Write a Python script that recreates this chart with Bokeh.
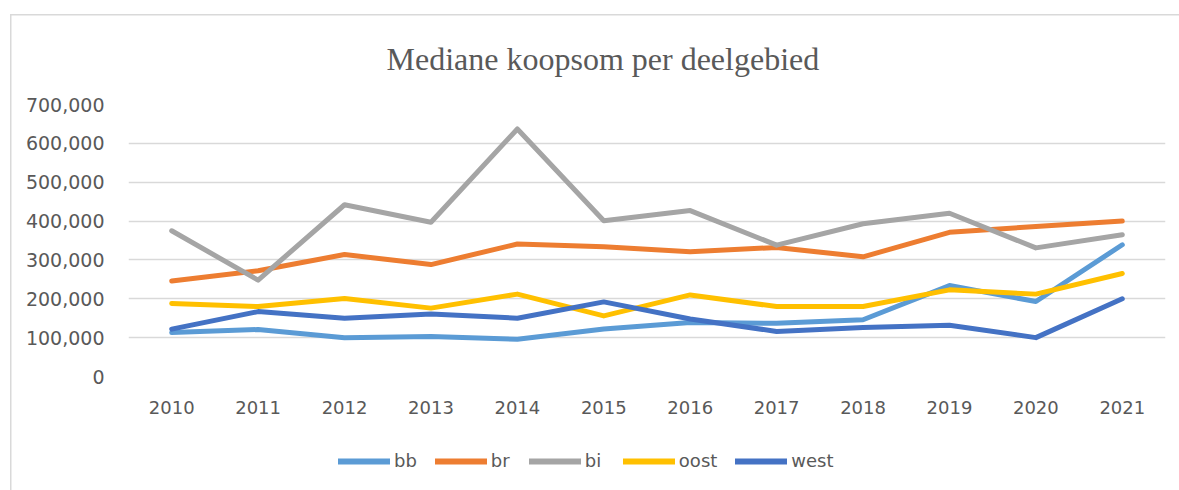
from bokeh.plotting import figure
from bokeh.layouts import column
from bokeh.models import FixedTicker, NumeralTickFormatter, Legend, LegendItem, Title, Range1d
from bokeh.embed import file_html
from bokeh.resources import INLINE

years = [2010, 2011, 2012, 2013, 2014, 2015, 2016, 2017, 2018, 2019, 2020, 2021]
bb = [113000, 121000, 100000, 103000, 96000, 122000, 139000, 137000, 146000, 234000, 193000, 339000]
br = [246000, 272000, 314000, 288000, 341000, 334000, 321000, 332000, 308000, 371000, 386000, 400000]
bi = [375000, 248000, 442000, 397000, 637000, 401000, 427000, 338000, 393000, 420000, 331000, 365000]
oost = [188000, 180000, 201000, 176000, 212000, 156000, 210000, 180000, 180000, 223000, 212000, 265000]
west = [122000, 167000, 150000, 161000, 150000, 192000, 148000, 116000, 126000, 132000, 100000, 200000]
y_ticks = [0, 100000, 200000, 300000, 400000, 500000, 600000, 700000]

series = [("bb", bb, "#5B9BD5"), ("br", br, "#ED7D31"), ("bi", bi, "#A5A5A5"),
          ("oost", oost, "#FFC000"), ("west", west, "#4472C4")]

GRID = "#D9D9D9"
TXT = "#595959"
font = "DejaVu Sans"

# main chart
p = figure(width=1179, height=440, output_backend="svg", toolbar_location=None,
           x_range=Range1d(2009.5, 2021.5), y_range=Range1d(0, 700000),
           min_border_left=128, min_border_right=14, min_border_top=104, min_border_bottom=64)
p.styles = {
    "background-image": f"linear-gradient({GRID},{GRID}), linear-gradient({GRID},{GRID})",
    "background-size": "100% 1.5px, 1.5px 100%",
    "background-position": "10px 14px, 10px 14px",
    "background-repeat": "no-repeat",
}
p.outline_line_color = None
p.background_fill_color = "white"
p.border_fill_color = None

p.xaxis.ticker = FixedTicker(ticks=years)
p.yaxis.ticker = FixedTicker(ticks=y_ticks)
p.yaxis.formatter = NumeralTickFormatter(format="0,0")
for ax in (p.xaxis[0], p.yaxis[0]):
    ax.axis_line_color = None
    ax.major_tick_line_color = None
    ax.minor_tick_line_color = None
    ax.major_tick_out = 0
    ax.major_tick_in = 0
    ax.major_label_text_font = font
    ax.major_label_text_font_size = "18px"
    ax.major_label_text_color = TXT
p.yaxis.major_label_text_font_size = "19px"
p.yaxis.major_label_standoff = 24
p.xaxis.major_label_standoff = 24
p.xgrid.grid_line_color = None
p.ygrid.grid_line_color = GRID
p.ygrid.grid_line_width = 1.5

for name, vals, col in series:
    p.line(years, vals, line_color=col, line_width=5, line_join="round", line_cap="round")

t = Title(text="Mediane koopsom per deelgebied", align="left", offset=258,
          text_font="Liberation Serif", text_font_size="32px", text_color=TXT,
          text_font_style="normal", standoff=55)
p.add_layout(t, "above")

# legend strip
p2 = figure(width=1179, height=50, output_backend="svg", toolbar_location=None,
            x_range=Range1d(0, 1), y_range=Range1d(0, 1),
            min_border=0, x_axis_location=None, y_axis_location=None)
p2.styles = {
    "background-image": f"linear-gradient({GRID},{GRID})",
    "background-size": "1.5px 100%",
    "background-position": "10px 0px",
    "background-repeat": "no-repeat",
}
p2.grid.visible = False
p2.outline_line_color = None
p2.background_fill_color = None
p2.border_fill_color = None
items = []
for name, vals, col in series:
    r = p2.line(years, vals, line_color=col, line_width=6, line_cap="round")
    items.append(LegendItem(label=name, renderers=[r]))
legend = Legend(items=items, orientation="horizontal", location=(210, 19),
                glyph_width=52, glyph_height=20, label_standoff=4, spacing=18,
                padding=0, margin=0, border_line_color=None, background_fill_alpha=0,
                label_text_font=font, label_text_font_size="18px", label_text_color=TXT)
p2.add_layout(legend, "center")

layout = column(p, p2, spacing=0)
open("out.html", "w").write(file_html(layout, INLINE))
